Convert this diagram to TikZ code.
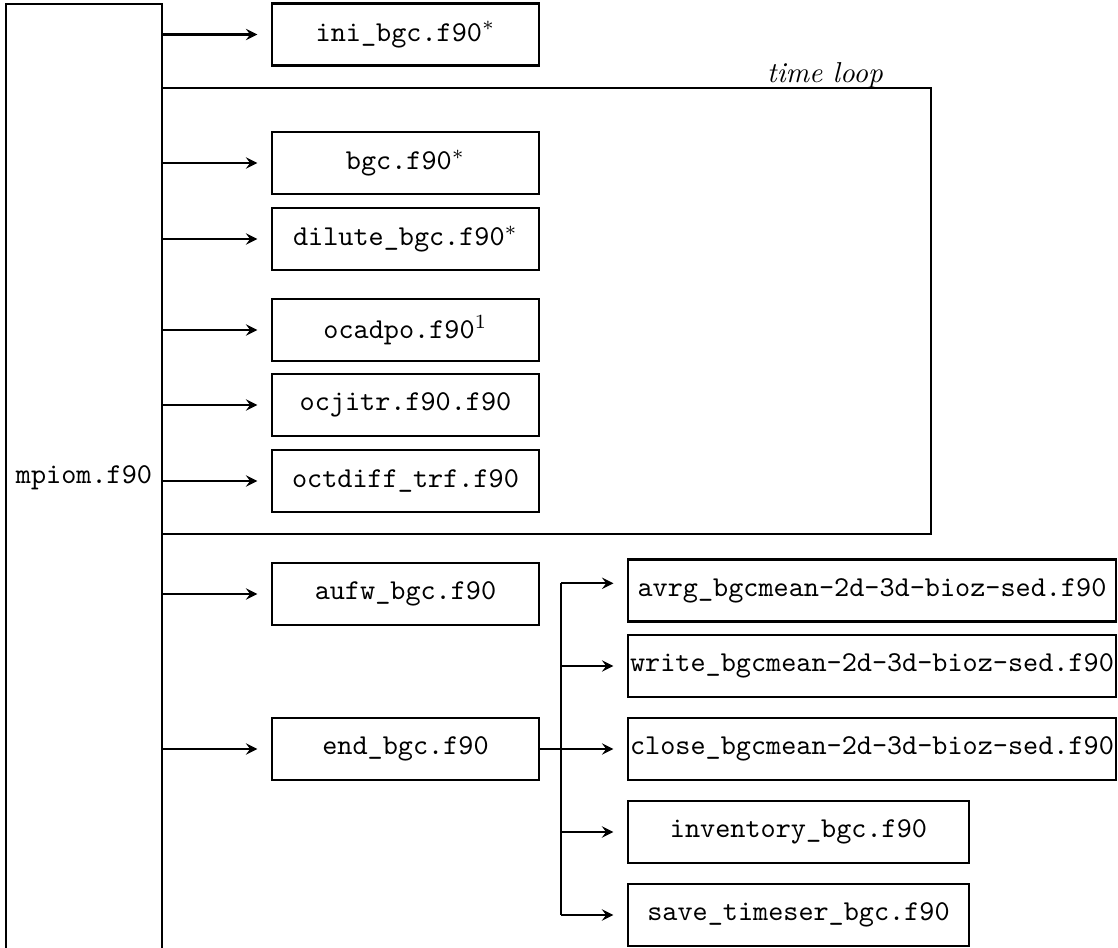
\documentclass[tikz,border=0pt]{standalone}

\begin{document}
\begin{tikzpicture}[x=0.3472pt, y=-0.3472pt, line width=0.75pt, >=stealth,
    prog/.style={draw, font=\ttfamily, inner xsep=0.5pt, minimum height=21.5pt, minimum width=92.7pt},
    progwide/.style={prog, minimum width=169.4pt},
    progmid/.style={prog, minimum width=118.4pt},
    call/.style={->, shorten >=4.7pt}]
        \useasboundingbox (0,0) rectangle (1118,948);

        % main program, runs off the bottom of the page
        \node[draw, font=\ttfamily, minimum width=52.8pt, minimum height=329.2pt] (mpiom) at (84,478) {mpiom.f90};

        \node[prog] (ini) at (405.5,34.5) {ini\_bgc.f90$^*$};
        \node[prog] (bgc) at (405.5,163) {bgc.f90$^*$};
        \node[prog] (dilute) at (405.5,239) {dilute\_bgc.f90$^*$};
        \node[prog] (ocadpo) at (405.5,330) {ocadpo.f90$^1$};
        \node[prog] (ocjitr) at (405.5,405) {ocjitr.f90.f90};
        \node[prog] (octdiff) at (405.5,481) {octdiff\_trf.f90};
        \node[prog] (aufw) at (405.5,594) {aufw\_bgc.f90};
        \node[prog] (endbgc) at (405.5,749) {end\_bgc.f90};

        \node[progwide] (avrg) at (872,590.5) {avrg\_bgcmean-2d-3d-bioz-sed.f90};
        \node[progwide] (write) at (872,666) {write\_bgcmean-2d-3d-bioz-sed.f90};
        \node[progwide] (close) at (872,749) {close\_bgcmean-2d-3d-bioz-sed.f90};
        \node[progmid] (inventory) at (798.5,832) {inventory\_bgc.f90};
        \node[progmid] (save) at (798.5,915) {save\_timeser\_bgc.f90};

        % time loop
        \draw (mpiom.east |- 0,88) -| (931,534) -- (mpiom.east |- 0,534);
        \node (loop) at (825,75) {\textit{time loop}};

        \foreach \n in {ini,bgc,dilute,ocadpo,ocjitr,octdiff,aufw,endbgc}
          \draw[call] (mpiom.east |- \n.west) -- (\n.west);

        % calls from end_bgc
        \coordinate (fork) at (561,749);
        \coordinate (avrgin) at ([yshift=2.5pt]avrg.west);
        \draw (endbgc.east) -- (fork);
        \draw (fork |- avrgin) -- (fork |- save.west);
        \draw[call] (fork |- avrgin) -- (avrgin);
        \foreach \n in {write,close,inventory,save}
          \draw[call] (fork |- \n.west) -- (\n.west);
\end{tikzpicture}
\end{document}
